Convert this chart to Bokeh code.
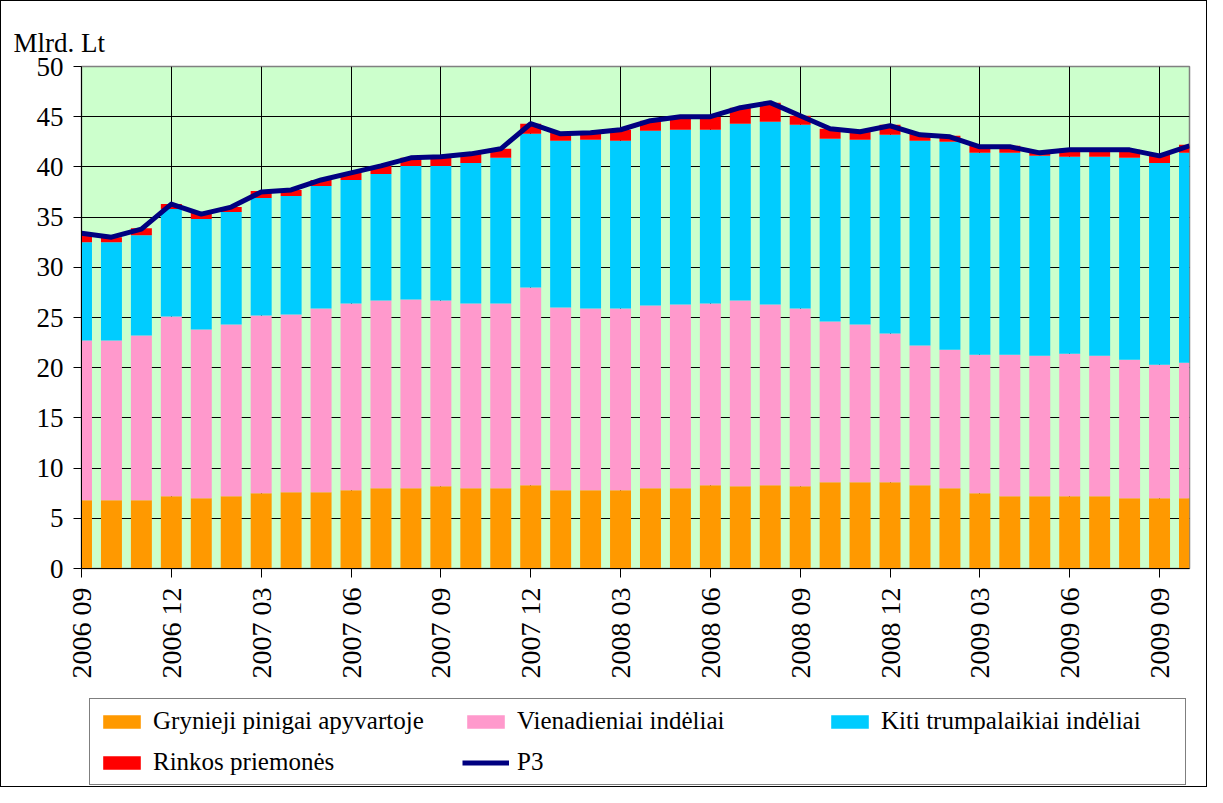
import math
from bokeh.plotting import figure
from bokeh.layouts import column
from bokeh.models import Range1d, FixedTicker, Legend, LegendItem, ColumnDataSource
from bokeh.embed import file_html
from bokeh.resources import INLINE

# ---- data (Mlrd. Lt), monthly 2006 09 .. 2009 10 ----
months = ["2006 09", "2006 10", "2006 11", "2006 12",
          "2007 01", "2007 02", "2007 03", "2007 04", "2007 05", "2007 06",
          "2007 07", "2007 08", "2007 09", "2007 10", "2007 11", "2007 12",
          "2008 01", "2008 02", "2008 03", "2008 04", "2008 05", "2008 06",
          "2008 07", "2008 08", "2008 09", "2008 10", "2008 11", "2008 12",
          "2009 01", "2009 02", "2009 03", "2009 04", "2009 05", "2009 06",
          "2009 07", "2009 08", "2009 09", "2009 10"]

cash = [6.8, 6.8, 6.8, 7.2, 7.0, 7.2, 7.5, 7.6, 7.6, 7.8, 8.0, 8.0, 8.2, 8.0,
        8.0, 8.3, 7.8, 7.8, 7.8, 8.0, 8.0, 8.3, 8.2, 8.3, 8.2, 8.6, 8.6, 8.6,
        8.3, 8.0, 7.5, 7.2, 7.2, 7.2, 7.2, 7.0, 7.0, 7.0]

overnight = [15.9, 15.9, 16.4, 17.9, 16.8, 17.1, 17.7, 17.7, 18.3, 18.6, 18.7,
             18.8, 18.5, 18.4, 18.4, 19.7, 18.2, 18.1, 18.1, 18.2, 18.3, 18.1,
             18.5, 18.0, 17.7, 16.0, 15.7, 14.8, 13.9, 13.8, 13.8, 14.1, 14.0,
             14.2, 14.0, 13.8, 13.3, 13.5]

other_short = [9.8, 9.8, 10.0, 10.7, 11.0, 11.2, 11.7, 11.8, 12.2, 12.3, 12.6,
               13.3, 13.4, 14.0, 14.5, 15.3, 16.6, 16.8, 16.7, 17.4, 17.4, 17.3,
               17.6, 18.2, 18.3, 18.2, 18.4, 19.8, 20.4, 20.7, 20.1, 20.1, 19.9,
               19.6, 19.8, 20.1, 20.1, 20.9]

market = [0.9, 0.5, 0.7, 0.5, 0.6, 0.5, 0.7, 0.6, 0.6, 0.7, 0.8, 0.8, 0.9, 0.9,
          0.9, 1.0, 0.8, 0.7, 1.1, 1.0, 1.3, 1.3, 1.6, 1.9, 0.9, 1.0, 0.8, 1.0,
          0.7, 0.6, 0.7, 0.7, 0.4, 0.8, 0.8, 0.8, 0.8, 0.8]

p3 = [33.4, 33.0, 33.8, 36.3, 35.3, 36.0, 37.5, 37.7, 38.7, 39.4, 40.1, 40.9,
      41.0, 41.3, 41.8, 44.3, 43.3, 43.4, 43.7, 44.6, 45.0, 45.0, 45.9, 46.4,
      45.1, 43.8, 43.5, 44.1, 43.2, 43.0, 42.0, 42.0, 41.4, 41.7, 41.7, 41.7,
      41.1, 42.1]

series_names = ["Grynieji pinigai apyvartoje", "Vienadieniai indėliai",
                "Kiti trumpalaikiai indėliai", "Rinkos priemonės", "P3"]
colors = ["#FF9900", "#FF99CC", "#00CCFF", "#FF0000"]
line_color = "#000080"
tick_step = 3
FONT = "'Liberation Serif', 'Times New Roman', serif"

x = list(range(len(months)))
src = ColumnDataSource(dict(x=x, cash=cash, overnight=overnight,
                            other=other_short, market=market, p3=p3))

p = figure(width=1205, height=693, output_backend="svg", toolbar_location=None,
           x_range=Range1d(0, len(months) - 1), y_range=Range1d(0, 50),
           min_border_left=80, min_border_right=17, min_border_top=65,
           min_border_bottom=126)

p.background_fill_color = "#CCFFCC"
p.border_fill_color = "white"
p.outline_line_color = "#808080"
p.outline_line_width = 1.5

bars = p.vbar_stack(["cash", "overnight", "other", "market"], x="x", width=0.7,
                    color=colors, line_color=None, source=src)
ln = p.line("x", "p3", source=src, line_color=line_color, line_width=5,
            line_join="round")

# axes
xt = list(range(0, len(months), tick_step))
p.xaxis.ticker = FixedTicker(ticks=xt)
p.xaxis.major_label_overrides = {i: months[i] for i in xt}
p.xaxis.major_label_orientation = math.pi / 2
p.xaxis.major_label_text_font = FONT
p.xaxis.major_label_text_font_size = "28px"
p.xaxis.major_label_text_color = "black"
p.xaxis.major_label_standoff = 10
p.xaxis.major_tick_out = 9
p.xaxis.major_tick_in = 0
p.xaxis.minor_tick_line_color = None
p.xaxis.axis_line_color = "black"
p.xaxis.major_tick_line_color = "black"

p.yaxis.ticker = FixedTicker(ticks=list(range(0, 51, 5)))
p.yaxis.major_label_text_font = FONT
p.yaxis.major_label_text_font_size = "27px"
p.yaxis.major_label_text_color = "black"
p.yaxis.major_label_standoff = 10
p.yaxis.major_tick_out = 8
p.yaxis.major_tick_in = 0
p.yaxis.minor_tick_line_color = None
p.yaxis.axis_line_color = "black"
p.yaxis.major_tick_line_color = "black"

p.xgrid.ticker = FixedTicker(ticks=xt)
p.xgrid.grid_line_color = "black"
p.xgrid.grid_line_width = 1
p.ygrid.grid_line_color = "black"
p.ygrid.grid_line_width = 1

# title as unit label
p.title.text = "Mlrd. Lt"
p.title.text_font = FONT
p.title.text_font_size = "27px"
p.title.text_font_style = "normal"
p.title.text_color = "black"
p.title.align = "left"
p.title.offset = -68
p.title.standoff = 18

# ---- legend panel below the chart (frame aligned with the chart frame) ----
lg = figure(width=1205, height=92, output_backend="svg", toolbar_location=None,
            x_range=Range1d(0, 1), y_range=Range1d(0, 1),
            x_axis_location=None, y_axis_location=None, min_border=0)
lg.grid.visible = False
lg.outline_line_color = None
lg.background_fill_color = "white"
lg.border_fill_color = "white"

# legend-only renderers, their single point lies outside the visible range
dummy = []
for c in colors:
    dummy.append(lg.vbar(x=[-5], top=[-5], width=0.7, color=c, line_color=None))
dummy.append(lg.line(x=[-5, -4], y=[-5, -5], line_color=line_color, line_width=5))

items = [LegendItem(label=series_names[i], renderers=[dummy[i]]) for i in range(5)]
legend = Legend(items=items, location=(8, 1), orientation="horizontal", ncols=3,
                glyph_width=47, glyph_height=17, label_standoff=8, label_width=296,
                spacing=13, padding=8, margin=0,
                label_text_font=FONT, label_text_font_size="25px",
                label_text_color="black",
                border_line_color="black", border_line_width=1,
                background_fill_color="white", background_fill_alpha=1.0)
lg.add_layout(legend)

layout = column(p, lg, spacing=0, styles={"border": "1px solid black"})

open("out.html", "w").write(file_html(layout, INLINE))
